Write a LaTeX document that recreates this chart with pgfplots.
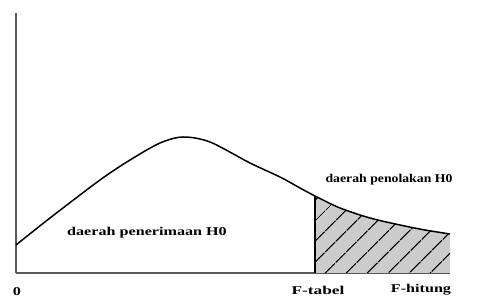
\documentclass[border=0pt]{standalone}
\usepackage{fontspec}
\setmainfont{Liberation Serif}
\usepackage{graphicx}
\usepackage{pgfplots}
\pgfplotsset{compat=1.18}
\usetikzlibrary{patterns.meta}
\usepgfplotslibrary{fillbetween}
\newcommand{\lbl}[2][1.35]{\scalebox{#1}[1]{\bfseries\fontsize{12}{14}\selectfont #2}}
\begin{document}
\begin{tikzpicture}
\begin{axis}[scale only axis, width=434bp, height=260bp,
  xmin=16, xmax=450, ymin=0, ymax=260,
  axis x line=bottom, axis y line=left,
  axis line style={-, line width=1.6bp, black!65},
  ticks=none, clip=false]
\path (axis cs:0,-25) (axis cs:483,273);
\addplot[name path=curve, draw=none, smooth, forget plot] coordinates {
(16,28) (50,55) (100,93) (130,113) (160,130) (183,136) (210,131) (250,110) (280,96) (300,85) (315,77) (340,65) (370,55) (400,48) (425,43) (450,39)};
\addplot[name path=base, draw=none, forget plot] coordinates {(300,0) (450,0)};
\addplot[fill=gray!40, draw=none] fill between[of=curve and base, soft clip={domain=315:450}];
\addplot[pattern={Lines[angle=45,distance=15bp,line width=1.4bp]}, pattern color=black, draw=none] fill between[of=curve and base, soft clip={domain=315:450}];
\addplot[smooth, line width=1.5bp, black] coordinates {
(16,28) (50,55) (100,93) (130,113) (160,130) (183,136) (210,131) (250,110) (280,96) (300,85) (315,77) (340,65) (370,55) (400,48) (425,43) (450,39)};
\addplot[line width=1.5bp, black] coordinates {(315,0) (315,77)};
\node at (axis cs:17,-19) {\lbl{0}};
\node at (axis cs:318,-17) {\lbl[1.45]{F-tabel}};
\node at (axis cs:421,-17) {\lbl{F-hitung}};
\node at (axis cs:147,40) {\lbl{daerah penerimaan H0}};
\node at (axis cs:389,93) {\lbl[1.15]{daerah penolakan H0}};
\end{axis}
\end{tikzpicture}
\end{document}
